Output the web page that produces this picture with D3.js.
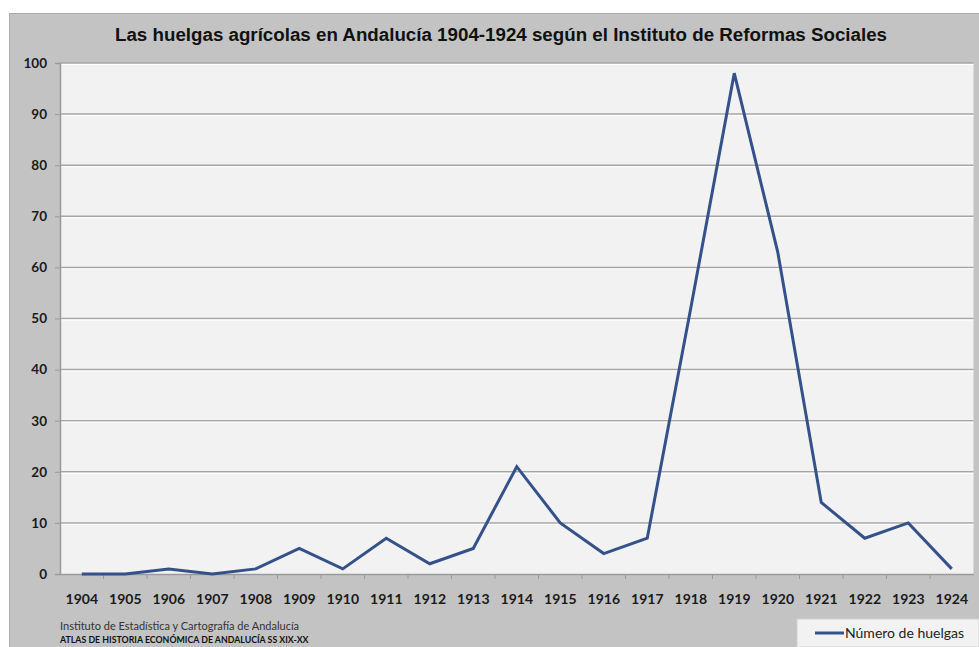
<!DOCTYPE html>
<html>
<head>
<meta charset="utf-8">
<script src="https://cdn.jsdelivr.net/npm/d3@7"></script>
<style>
  body { margin: 0; background: #fff; }
  svg { display: block; }
</style>
</head>
<body>
<div id="canvas"></div>
<script>
const w = 979, h = 647;

const years = ["1904","1905","1906","1907","1908","1909","1910","1911","1912","1913","1914",
               "1915","1916","1917","1918","1919","1920","1921","1922","1923","1924"];
const huelgas = [0, 0, 1, 0, 1, 5, 1, 7, 2, 5, 21, 10, 4, 7, 52, 98, 63, 14, 7, 10, 1];
const yTicks = [0, 10, 20, 30, 40, 50, 60, 70, 80, 90, 100];

const titleText = "Las huelgas agrícolas en Andalucía 1904-1924 según el Instituto de Reformas Sociales";
const seriesName = "Número de huelgas";
const source1 = "Instituto de Estadística y Cartografía de Andalucía";
const source2 = "ATLAS DE HISTORIA ECONÓMICA DE ANDALUCÍA SS XIX-XX";

const plot = {left: 60, right: 973.5, top: 63, bottom: 574};

let svg = d3.select("#canvas")
            .append("svg")
                .attr("width", w)
                .attr("height", h)
                .attr("viewBox", [0, 0, w, h]);

// grey frame
svg.append("rect")
    .attr("x", 9).attr("y", 13)
    .attr("width", w - 9).attr("height", h - 13)
    .attr("fill", "#c3c3c3");
svg.append("line")
    .attr("x1", 9).attr("x2", w).attr("y1", 13.5).attr("y2", 13.5)
    .attr("stroke", "#a9a9a9").attr("stroke-width", 1);
svg.append("line")
    .attr("x1", 9.5).attr("x2", 9.5).attr("y1", 13).attr("y2", h)
    .attr("stroke", "#b0b0b0").attr("stroke-width", 1);

svg.append("text")
    .attr("x", 501).attr("y", 41)
    .attr("text-anchor", "middle")
    .attr("textLength", 772)
    .attr("lengthAdjust", "spacingAndGlyphs")
    .style("font-family", "'Liberation Sans', Arial, sans-serif")
    .style("font-weight", "bold")
    .style("font-size", "18px")
    .attr("fill", "#111")
    .text(titleText);

let x = d3.scaleBand()
    .domain(years)
    .range([plot.left, plot.right]);

let y = d3.scaleLinear()
    .domain([0, 100])
    .range([plot.bottom, plot.top]);

// plot background
svg.append("rect")
    .attr("x", plot.left).attr("y", plot.top)
    .attr("width", plot.right - plot.left).attr("height", plot.bottom - plot.top)
    .attr("fill", "#f2f2f2");

// gridlines
let grid = svg.append("g");
grid.selectAll("line.g")
    .data(yTicks.filter(d => d > 0))
    .enter().append("line")
        .attr("class", "g")
        .attr("x1", plot.left).attr("x2", plot.right)
        .attr("y1", d => y(d)).attr("y2", d => y(d))
        .attr("stroke", "#a6a6a6").attr("stroke-width", 1.5);
grid.selectAll("line.hl")
    .data(yTicks.filter(d => d > 0))
    .enter().append("line")
        .attr("class", "hl")
        .attr("x1", plot.left).attr("x2", plot.right)
        .attr("y1", d => y(d) + 1.5).attr("y2", d => y(d) + 1.5)
        .attr("stroke", "#ffffff").attr("stroke-width", 1);

// y axis
let yAxis = d3.axisLeft(y)
    .tickValues(yTicks)
    .tickSize(5)
    .tickPadding(8);
let gY = svg.append("g")
    .attr("transform", "translate(" + plot.left + ",0)")
    .call(yAxis);
gY.select(".domain").attr("stroke", "#9a9a9a").attr("stroke-width", 1.5);
gY.selectAll(".tick line").attr("stroke", "#9a9a9a");
gY.selectAll(".tick text")
    .style("font-family", "Lato, 'Open Sans', sans-serif")
    .style("font-size", "13.5px")
    .style("font-weight", "bold")
    .attr("fill", "#1a1a1a");

// x axis
let xAxis = d3.axisBottom(x)
    .tickSize(0)
    .tickPadding(20);
let gX = svg.append("g")
    .attr("transform", "translate(0," + plot.bottom + ")")
    .call(xAxis);
gX.select(".domain").attr("stroke", "#9a9a9a").attr("stroke-width", 1.5);
gX.selectAll(".tick text")
    .style("font-family", "Lato, 'Open Sans', sans-serif")
    .style("font-size", "14px")
    .style("font-weight", "bold")
    .attr("fill", "#1a1a1a");
// tick marks at category boundaries
gX.selectAll("line.bt")
    .data(years.slice(1))
    .enter().append("line")
        .attr("class", "bt")
        .attr("x1", d => x(d)).attr("x2", d => x(d))
        .attr("y1", 0).attr("y2", 5)
        .attr("stroke", "#9a9a9a");

// series line
let line = d3.line()
    .x((d, i) => x(years[i]) + x.bandwidth() / 2)
    .y(d => y(d));
svg.append("path")
    .datum(huelgas)
    .attr("d", line)
    .attr("fill", "none")
    .attr("stroke", "#34518a")
    .attr("stroke-width", 3)
    .attr("stroke-linejoin", "miter");

// footer
svg.append("text")
    .attr("x", 60).attr("y", 630)
    .style("font-family", "Lato, 'Open Sans', sans-serif")
    .style("font-size", "11px")
    .attr("fill", "#333")
    .text(source1);
svg.append("text")
    .attr("x", 60).attr("y", 643)
    .style("font-family", "Lato, 'Open Sans', sans-serif")
    .style("font-size", "8.8px")
    .style("font-weight", "bold")
    .attr("fill", "#111")
    .text(source2);

// legend
let lg = svg.append("g");
lg.append("rect")
    .attr("x", 797).attr("y", 619)
    .attr("width", w - 797).attr("height", h - 619)
    .attr("fill", "#f2f2f2")
    .attr("stroke", "#d0d0d0");
lg.append("line")
    .attr("x1", 815).attr("x2", 844)
    .attr("y1", 633).attr("y2", 633)
    .attr("stroke", "#34518a").attr("stroke-width", 3);
lg.append("text")
    .attr("x", 845).attr("y", 638)
    .style("font-family", "Lato, 'Open Sans', sans-serif")
    .style("font-size", "14px")
    .attr("fill", "#222")
    .text(seriesName);
</script>
</body>
</html>
